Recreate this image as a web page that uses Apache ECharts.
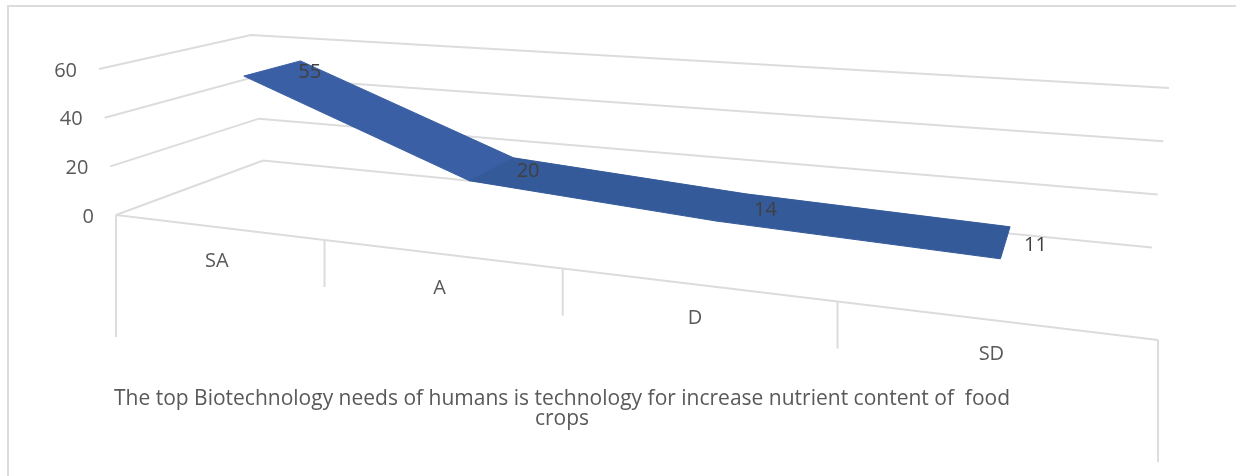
<!DOCTYPE html>
<html>
<head>
<meta charset="utf-8">
<style>html,body{margin:0;padding:0;background:#fff}#chart{width:1236px;height:476px}</style>
<script src="https://cdn.jsdelivr.net/npm/echarts@6/dist/echarts.min.js"></script>
</head>
<body>
<div id="chart"></div>
<script>
const categories = ['SA', 'A', 'D', 'SD'];
const values = [55, 20, 14, 11];
const yTicks = [0, 20, 40, 60];
const yMax = 60;
const axisTitle = 'The top Biotechnology needs of humans is technology for increase nutrient content of  food\ncrops';

// box corners in pixels: front-left, front-right, back-right, back-left, at value 0 and at value 60
const floorQuad = [[116, 215], [1158, 340], [1152, 247.6], [263, 160.5]];
const topQuad = [[99, 69], [1178, 152], [1169, 88], [251, 35]];
const ribbonDepth = [0.30, 0.70];

function unitSquareHomography(q) {
  const [p0, p1, p2, p3] = q;
  const dx1 = p1[0] - p2[0], dx2 = p3[0] - p2[0], sx = p0[0] - p1[0] + p2[0] - p3[0];
  const dy1 = p1[1] - p2[1], dy2 = p3[1] - p2[1], sy = p0[1] - p1[1] + p2[1] - p3[1];
  const det = dx1 * dy2 - dx2 * dy1;
  const g = (sx * dy2 - dx2 * sy) / det;
  const h = (dx1 * sy - sx * dy1) / det;
  const a = p1[0] - p0[0] + g * p1[0], b = p3[0] - p0[0] + h * p3[0];
  const d = p1[1] - p0[1] + g * p1[1], e = p3[1] - p0[1] + h * p3[1];
  return (u, v) => {
    const w = g * u + h * v + 1;
    return [(a * u + b * v + p0[0]) / w, (d * u + e * v + p0[1]) / w];
  };
}

// u along the categories, v into the depth, t the share of the value axis
function project(u, v, t) {
  const q = floorQuad.map((p, i) => [
    p[0] + (topQuad[i][0] - p[0]) * t,
    p[1] + (topQuad[i][1] - p[1]) * t
  ]);
  return unitSquareHomography(q)(u, v);
}

// the hidden grid fills the canvas, so api.coord gives shares of it
function toUnit(api, cat, val) {
  const c = api.coord([cat, val]);
  const s = api.size([1, 0]);
  return { u: c[0] / (s[0] * categories.length), t: 1 - c[1] / api.getHeight() };
}

const lineStyle = { stroke: '#dcdcdc', lineWidth: 2, fill: null };
const textBase = { fontFamily: '"Open Sans"', fontSize: 20, fill: '#595959' };

const chart = echarts.init(document.getElementById('chart'), null, { renderer: 'canvas' });
chart.setOption({
  animation: false,
  backgroundColor: '#fff',
  // outline of the chart area
  graphic: [
    { type: 'polyline', shape: { points: [[8, 476], [8, 6], [1236, 6]] }, style: { stroke: '#dcdcdc', lineWidth: 2, fill: null } },
    {
      type: 'text', x: 562, y: 389,
      style: { text: axisTitle, align: 'center', lineHeight: 20, fontFamily: '"Open Sans"', fontSize: 21, fill: '#595959' }
    }
  ],
  grid: { left: 0, right: 0, top: 0, bottom: 0 },
  xAxis: { type: 'category', data: categories, show: false },
  yAxis: { type: 'value', min: 0, max: yMax, interval: 20, show: false },
  series: [
    {
      // gridlines on the side and back walls, with the value labels
      type: 'custom',
      silent: true,
      data: yTicks.map(v => [0, v]),
      renderItem: (params, api) => {
        const val = api.value(1);
        const t = toUnit(api, 0, val).t;
        const a = project(0, 0, t), b = project(0, 1, t), c = project(1, 1, t);
        return {
          type: 'group',
          children: [
            { type: 'polyline', shape: { points: [a, b, c] }, style: lineStyle },
            { type: 'text', style: Object.assign({ text: String(val), x: a[0] - 22, y: a[1] + 2, align: 'right', verticalAlign: 'middle' }, textBase) }
          ]
        };
      }
    },
    {
      // front floor edge and the category separators
      type: 'custom',
      silent: true,
      data: [0, 1, 2, 3, 4].map(i => [i]),
      renderItem: (params, api) => {
        const i = api.value(0);
        const u = i / categories.length;
        const a = project(u, 0, 0);
        const outer = i === 0 || i === categories.length;
        const children = [
          { type: 'line', shape: { x1: a[0], y1: a[1], x2: a[0], y2: a[1] + (outer ? 122 : 47) }, style: lineStyle }
        ];
        if (i < categories.length) {
          const b = project((i + 1) / categories.length, 0, 0);
          children.push({ type: 'line', shape: { x1: a[0], y1: a[1], x2: b[0], y2: b[1] }, style: lineStyle });
          const m = project((i + 0.5) / categories.length, 0, 0);
          children.push({ type: 'text', style: Object.assign({ text: categories[i], x: m[0], y: m[1] + 34, align: 'center', verticalAlign: 'middle' }, textBase) });
        }
        return { type: 'group', children };
      }
    },
    {
      // ribbon, one face between each pair of neighbouring categories
      type: 'custom',
      silent: true,
      z: 3,
      data: values.slice(0, -1).map((v, i) => [i, v, values[i + 1]]),
      renderItem: (params, api) => {
        const i = api.value(0);
        const p0 = toUnit(api, i, api.value(1));
        const p1 = toUnit(api, i + 1, api.value(2));
        return {
          type: 'polygon',
          shape: {
            points: [
              project(p0.u, ribbonDepth[0], p0.t),
              project(p1.u, ribbonDepth[0], p1.t),
              project(p1.u, ribbonDepth[1], p1.t),
              project(p0.u, ribbonDepth[1], p0.t)
            ]
          },
          style: { fill: i === 0 ? '#3a5fa4' : '#345a9a', stroke: i === 0 ? '#3a5fa4' : '#345a9a', lineWidth: 1 }
        };
      }
    },
    {
      // value labels just past the back corner of each point
      type: 'custom',
      silent: true,
      z: 4,
      data: values.map((v, i) => [i, v]),
      renderItem: (params, api) => {
        const p = toUnit(api, api.value(0), api.value(1));
        const a = project(p.u + 0.02, ribbonDepth[1], p.t);
        return {
          type: 'text',
          style: { text: String(api.value(1)), x: a[0] - 7 + 11 * p.u, y: a[1] + 9.5 + 7.5 * p.u, align: 'center', verticalAlign: 'middle', fontFamily: '"Open Sans"', fontSize: 20, fill: '#404040' }
        };
      }
    }
  ]
});
</script>
</body>
</html>
